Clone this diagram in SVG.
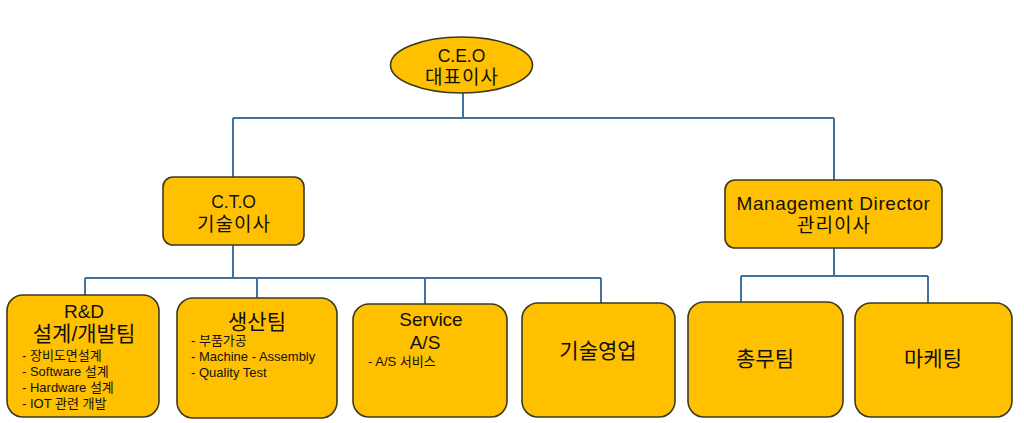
<svg xmlns="http://www.w3.org/2000/svg" width="1024" height="423" viewBox="0 0 1024 423">
<style>
.box{fill:#FFC000;stroke:#3A3A22;stroke-width:1.6}
.conn{fill:none;stroke:#41719C;stroke-width:2}
text{font-family:"Liberation Sans","Noto Sans CJK KR",sans-serif;fill:#111}
.t{font-size:19px;text-anchor:middle}
.c{font-size:17.5px}
.k{letter-spacing:1px}
.h{font-size:19px;text-anchor:middle}
.hk{font-size:21px;text-anchor:middle}
.s{font-size:13px}
</style>
<rect width="1024" height="423" fill="#fff"/>
<g id="connectors">
<path class="conn" d="M463 93V118M233 118H834M233 118V177M834 118V180"/>
<path class="conn" d="M233 245V278M85 278H601M85 278V295M257 278V298M425 278V304M601 278V303"/>
<path class="conn" d="M834 248V276M741 276H928M741 276V302M928 276V303"/>
</g>
<g id="ceo">
<ellipse class="box" cx="461.5" cy="65" rx="71" ry="28"/>
<text class="t c" x="461.5" y="62">C.E.O</text>
<text class="t k" x="462" y="84">대표이사</text>
</g>
<g id="cto">
<rect class="box" x="163" y="177" width="141" height="68" rx="10"/>
<text class="t c" x="233.5" y="208">C.T.O</text>
<text class="t k" x="234" y="231">기술이사</text>
</g>
<g id="md">
<rect class="box" x="725" y="180" width="217" height="68" rx="10"/>
<text class="t" x="833.5" y="210" letter-spacing="0.6">Management Director</text>
<text class="t k" x="834" y="232">관리이사</text>
</g>
<g id="rnd">
<rect class="box" x="7" y="295" width="152" height="122" rx="16"/>
<text class="h" x="84" y="318">R&amp;D</text>
<text class="hk" x="84" y="341">설계/개발팀</text>
<text class="s" x="22" y="360">- 장비도면설계</text>
<text class="s" x="22" y="376">- Software 설계</text>
<text class="s" x="22" y="392">- Hardware 설계</text>
<text class="s" x="22" y="408">- IOT 관련 개발</text>
</g>
<g id="production">
<rect class="box" x="177" y="298" width="160" height="120" rx="16"/>
<text class="hk" x="257" y="329">생산팀</text>
<text class="s" x="191" y="345">- 부품가공</text>
<text class="s" x="191" y="361">- Machine - Assembly</text>
<text class="s" x="191" y="377">- Quality Test</text>
</g>
<g id="service">
<rect class="box" x="353" y="304" width="154" height="113" rx="16"/>
<text class="h" x="431" y="326">Service</text>
<text class="h" x="425" y="349">A/S</text>
<text class="s" x="368" y="366">-  A/S 서비스</text>
</g>
<g id="sales">
<rect class="box" x="522" y="303" width="153" height="114" rx="16"/>
<text class="hk" x="598" y="358">기술영업</text>
</g>
<g id="general">
<rect class="box" x="688" y="302" width="155" height="115" rx="16"/>
<text class="hk" x="765" y="366">총무팀</text>
</g>
<g id="marketing">
<rect class="box" x="855" y="303" width="157" height="114" rx="16"/>
<text class="hk" x="933" y="366">마케팅</text>
</g>
</svg>
